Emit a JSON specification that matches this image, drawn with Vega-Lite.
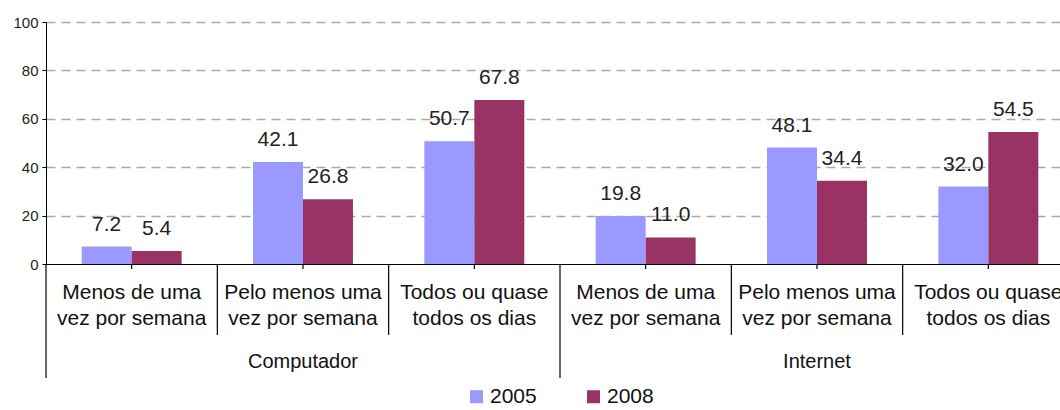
{
  "$schema": "https://vega.github.io/schema/vega-lite/v6.json",
  "autosize": {"type": "none"},
  "padding": {"left": 46, "top": 22, "right": 0, "bottom": 146},
  "width": 1014,
  "height": 242,
  "config": {"font": "Liberation Sans", "view": {"stroke": null}},
  "data": {
    "values": [
      {"cat": "1|Menos de uma|vez por semana", "group": "Computador", "year": "2005", "value": 7.2},
      {"cat": "1|Menos de uma|vez por semana", "group": "Computador", "year": "2008", "value": 5.4},
      {"cat": "2|Pelo menos uma|vez por semana", "group": "Computador", "year": "2005", "value": 42.1},
      {"cat": "2|Pelo menos uma|vez por semana", "group": "Computador", "year": "2008", "value": 26.8},
      {"cat": "3|Todos ou quase|todos os dias", "group": "Computador", "year": "2005", "value": 50.7},
      {"cat": "3|Todos ou quase|todos os dias", "group": "Computador", "year": "2008", "value": 67.8},
      {"cat": "4|Menos de uma|vez por semana", "group": "Internet", "year": "2005", "value": 19.8},
      {"cat": "4|Menos de uma|vez por semana", "group": "Internet", "year": "2008", "value": 11.0},
      {"cat": "5|Pelo menos uma|vez por semana", "group": "Internet", "year": "2005", "value": 48.1},
      {"cat": "5|Pelo menos uma|vez por semana", "group": "Internet", "year": "2008", "value": 34.4},
      {"cat": "6|Todos ou quase|todos os dias", "group": "Internet", "year": "2005", "value": 32.0},
      {"cat": "6|Todos ou quase|todos os dias", "group": "Internet", "year": "2008", "value": 54.5}
    ]
  },
  "layer": [
    {
      "mark": {"type": "bar"},
      "encoding": {
        "x": {
          "field": "cat", "type": "nominal",
          "scale": {"range": [0, 1028], "paddingInner": 0, "paddingOuter": 0},
          "axis": {
            "title": null, "ticks": false, "labelAngle": 0,
            "labelExpr": "slice(split(datum.value, '|'), 1)",
            "labelFontSize": 21, "labelLineHeight": 26, "labelPadding": 17,
            "labelColor": "#111", "domainColor": "#000", "labelOverlap": false, "labelLimit": 0
          }
        },
        "xOffset": {"field": "year", "type": "nominal", "scale": {"paddingOuter": 0.714, "paddingInner": 0}},
        "y": {
          "field": "value", "type": "quantitative",
          "scale": {"domain": [0, 100], "nice": false},
          "axis": {
            "title": null, "values": [0, 20, 40, 60, 80, 100], "tickSize": 4, "labelPadding": 4,
            "labelFontSize": 15, "labelColor": "#222", "domainColor": "#000", "tickColor": "#000",
            "grid": true, "gridDash": [9, 6], "gridColor": "#aaaaaa", "gridWidth": 1.5,
            "gridOpacity": {"expr": "datum.value == 0 ? 0 : 1"}
          }
        },
        "color": {
          "field": "year", "type": "nominal",
          "scale": {"domain": ["2005", "2008"], "range": ["#9999FF", "#993366"]},
          "legend": {
            "orient": "none", "legendX": 420, "legendY": 364, "direction": "horizontal", "title": null,
            "symbolType": "square", "symbolSize": 169, "labelFontSize": 21, "labelOffset": 3,
            "columnPadding": 46, "symbolStrokeWidth": 0, "labelColor": "#111"
          }
        }
      }
    },
    {
      "mark": {"type": "text", "baseline": "alphabetic", "dy": -16, "fontSize": 21, "color": "#222"},
      "encoding": {
        "x": {"field": "cat", "type": "nominal"},
        "xOffset": {"field": "year", "type": "nominal"},
        "y": {"field": "value", "type": "quantitative"},
        "text": {"field": "value", "type": "quantitative", "format": ".1f"}
      }
    },
    {
      "transform": [{"filter": "datum.year == '2005' && indexof(['2','3','5','6'], substring(datum.cat, 0, 1)) >= 0"}],
      "mark": {"type": "rule", "color": "#000", "strokeWidth": 1.2},
      "encoding": {
        "x": {"field": "cat", "type": "nominal", "bandPosition": 0},
        "y": {"datum": 0, "type": "quantitative"},
        "y2": {"datum": -29.3}
      }
    },
    {
      "transform": [{"filter": "datum.year == '2005' && indexof(['1','4'], substring(datum.cat, 0, 1)) >= 0"}],
      "mark": {"type": "rule", "color": "#000", "strokeWidth": 1.2},
      "encoding": {
        "x": {"field": "cat", "type": "nominal", "bandPosition": 0},
        "y": {"datum": 0, "type": "quantitative"},
        "y2": {"datum": -47.1}
      }
    },
    {
      "transform": [{"filter": "datum.year == '2005'"}],
      "mark": {"type": "rule", "color": "#000", "strokeWidth": 1.2},
      "encoding": {
        "x": {"field": "cat", "type": "nominal", "bandPosition": 0.5},
        "y": {"datum": 0, "type": "quantitative"},
        "y2": {"datum": -2.1}
      }
    },
    {
      "transform": [{"filter": "datum.year == '2005' && indexof(['2','5'], substring(datum.cat, 0, 1)) >= 0"}],
      "mark": {"type": "text", "baseline": "middle", "fontSize": 20, "color": "#111"},
      "encoding": {
        "x": {"field": "cat", "type": "nominal"},
        "y": {"datum": -40.5, "type": "quantitative"},
        "text": {"field": "group", "type": "nominal"}
      }
    }
  ]
}
